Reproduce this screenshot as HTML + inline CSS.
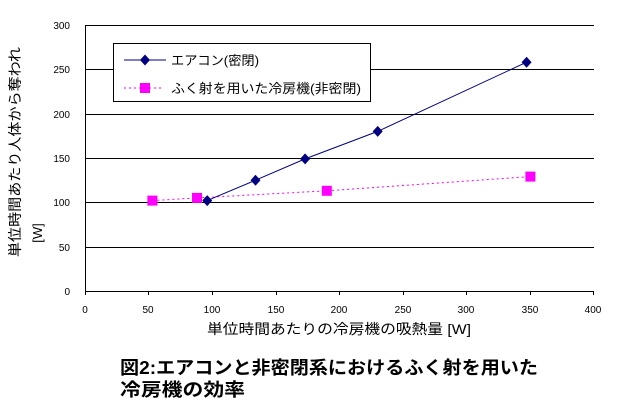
<!DOCTYPE html>
<html><head><meta charset="utf-8"><style>
body{margin:0;background:#fff;}
svg text{font-family:"Liberation Sans","Noto Sans CJK JP",sans-serif;}
</style></head><body>
<svg width="628" height="409" xmlns="http://www.w3.org/2000/svg">
<rect width="628" height="409" fill="#fff"/>
<g stroke="#000" stroke-width="1">
<line x1="85" y1="25.5" x2="594" y2="25.5"/>
<line x1="85" y1="69.5" x2="594" y2="69.5"/>
<line x1="85" y1="114.5" x2="594" y2="114.5"/>
<line x1="85" y1="158.5" x2="594" y2="158.5"/>
<line x1="85" y1="202.5" x2="594" y2="202.5"/>
<line x1="85" y1="247.5" x2="594" y2="247.5"/>
<line x1="85" y1="291.5" x2="594" y2="291.5"/>
<line x1="85.5" y1="25" x2="85.5" y2="291"/>
<line x1="85.5" y1="291" x2="85.5" y2="295"/>
<line x1="148.5" y1="291" x2="148.5" y2="295"/>
<line x1="212.5" y1="291" x2="212.5" y2="295"/>
<line x1="276.5" y1="291" x2="276.5" y2="295"/>
<line x1="339.5" y1="291" x2="339.5" y2="295"/>
<line x1="403.5" y1="291" x2="403.5" y2="295"/>
<line x1="466.5" y1="291" x2="466.5" y2="295"/>
<line x1="530.5" y1="291" x2="530.5" y2="295"/>
<line x1="593.5" y1="291" x2="593.5" y2="295"/>
</g>
<g font-size="10" text-anchor="end">
<text x="70" y="29">300</text><text x="70" y="73">250</text><text x="70" y="118">200</text>
<text x="70" y="162">150</text><text x="70" y="206">100</text><text x="70" y="251">50</text><text x="70" y="295">0</text>
</g>
<g font-size="10" text-anchor="middle">
<text x="85" y="313">0</text><text x="148" y="313">50</text><text x="212" y="313">100</text>
<text x="276" y="313">150</text><text x="339" y="313">200</text><text x="403" y="313">250</text>
<text x="466" y="313">300</text><text x="530" y="313">350</text><text x="593" y="313">400</text>
</g>
<text x="207" y="334" font-size="14" textLength="264" lengthAdjust="spacingAndGlyphs">単位時間あたりの冷房機の吸熱量 [W]</text>
<text transform="translate(20,152) rotate(-90)" font-size="14" text-anchor="middle" textLength="210" lengthAdjust="spacingAndGlyphs">単位時間あたり人体から奪われ</text>
<text transform="translate(42,233) rotate(-90)" font-size="13" text-anchor="middle">[W]</text>
<polyline points="152.4,200.6 197,197.9 326.8,190.8 530.4,176.6" fill="none" stroke="#ff00ff" stroke-dasharray="2,3"/>
<polyline points="207.2,200.6 255.5,180.2 305.1,158.9 377.7,131.4 526.6,62.2" fill="none" stroke="#000080"/>
<g fill="#ff00ff">
<rect x="147.4" y="195.6" width="10" height="10"/><rect x="192" y="192.9" width="10" height="10"/>
<rect x="321.8" y="185.8" width="10" height="10"/><rect x="525.4" y="171.6" width="10" height="10"/>
</g>
<g fill="#000080">
<path d="M207.2,195.1l5,5.5l-5,5.5l-5,-5.5z"/><path d="M255.5,174.7l5,5.5l-5,5.5l-5,-5.5z"/>
<path d="M305.1,153.4l5,5.5l-5,5.5l-5,-5.5z"/><path d="M377.7,125.9l5,5.5l-5,5.5l-5,-5.5z"/>
<path d="M526.6,56.7l5,5.5l-5,5.5l-5,-5.5z"/>
</g>
<rect x="113.5" y="43.5" width="257" height="58" fill="#fff" stroke="#000"/>
<line x1="124" y1="60" x2="166" y2="60" stroke="#000080"/>
<path d="M145,54.5l5,5.5l-5,5.5l-5,-5.5z" fill="#000080"/>
<line x1="124" y1="88" x2="162" y2="88" stroke="#ff00ff" stroke-dasharray="2,3"/>
<rect x="140" y="83" width="10" height="10" fill="#ff00ff"/>
<text x="171" y="65" font-size="13" textLength="88" lengthAdjust="spacingAndGlyphs">エアコン(密閉)</text>
<text x="171" y="93" font-size="13" textLength="190" lengthAdjust="spacingAndGlyphs">ふく射を用いた冷房機(非密閉)</text>
<text x="120" y="374" font-size="18" font-weight="bold" textLength="418" lengthAdjust="spacingAndGlyphs">図2:エアコンと非密閉系におけるふく射を用いた</text>
<text x="120" y="396" font-size="18" font-weight="bold" textLength="125" lengthAdjust="spacingAndGlyphs">冷房機の効率</text>
</svg>
</body></html>
